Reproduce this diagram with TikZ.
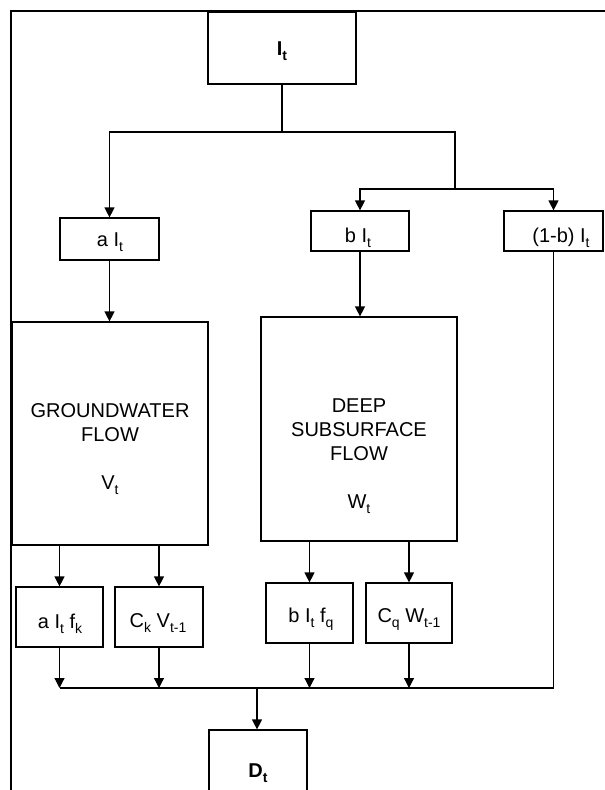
\documentclass[tikz,border=0pt]{standalone}
\usepackage{fontspec}
\setmainfont{Liberation Sans}
\usetikzlibrary{arrows.meta}
\newcommand{\sbs}[1]{\raisebox{-5pt}{\fontsize{14}{14}\selectfont #1}}
\begin{document}
\begin{tikzpicture}[x=1pt,y=-1pt,
  box/.style={draw, line width=1.2pt, inner sep=0pt},
  txt/.style={inner sep=0pt, font=\fontsize{20}{24}\selectfont, align=center},
  tx/.style={txt, anchor=base},
  line/.style={line width=1.2pt},
  arr/.style={line width=1.2pt, -{Triangle[width=10pt,length=10pt]}},
  frame/.style={line width=1.6pt}]
\useasboundingbox (0,0) rectangle (605,790);

% frame
\coordinate (fTL) at (11,11);
\coordinate (fTR) at (606,11);
\coordinate (fBL) at (11,792);
\draw[frame] (fTR) -- (fTL) -- (fBL);

% boxes
\node[box, minimum width=148pt, minimum height=72pt] (It) at (282,48) {};
\node[tx] (Itt) at (282,55) {\bfseries I\sbs{t}};
\node[box, minimum width=99pt, minimum height=42pt] (aIt) at (109.5,239) {};
\node[tx] (aItt) at (110,246) {a I\sbs{t}};
\node[box, minimum width=98pt, minimum height=40pt] (bIt) at (360,231) {};
\node[tx] (bItt) at (358,242) {b I\sbs{t}};
\node[box, minimum width=99pt, minimum height=40pt] (obIt) at (553.5,231) {};
\node[tx] (obItt) at (561,242) {(1-b) I\sbs{t}};

\node[box, minimum width=196pt, minimum height=223pt] (gw) at (110,433.5) {};
\node[txt] (gwt) at (110,449.5) {GROUNDWATER\\FLOW\\[24pt]V\sbs{t}};
\node[box, minimum width=196pt, minimum height=224pt] (dp) at (359,429) {};
\node[txt] (dpt) at (359,456.5) {DEEP\\SUBSURFACE\\FLOW\\[24pt]W\sbs{t}};

\node[box, minimum width=87pt, minimum height=60pt] (s1) at (59.5,617) {};
\node[tx] (s1t) at (60,628) {a I\sbs{t} f\sbs{k}};
\node[box, minimum width=88pt, minimum height=60pt] (s2) at (159,617) {};
\node[tx] (s2t) at (158,627) {C\sbs{k} V\sbs{t-1}};
\node[box, minimum width=87pt, minimum height=60pt] (s3) at (309.5,613) {};
\node[tx] (s3t) at (311,622) {b I\sbs{t} f\sbs{q}};
\node[box, minimum width=86pt, minimum height=60pt] (s4) at (409,613) {};
\node[tx] (s4t) at (409,622) {C\sbs{q} W\sbs{t-1}};

\node[box, minimum width=98pt, minimum height=80pt] (Dt) at (258,770) {};
\node[tx] (Dtt) at (258,777) {\bfseries D\sbs{t}};

% top distribution
\coordinate (j1) at (282,132);
\coordinate (j2) at (455,132);
\coordinate (j3) at (455,189);
\draw[line] (It.south) -- (j1);
\draw[arr] (j1) -| (aIt.north);
\draw[line] (j1) -- (j2) -- (j3);
\draw[arr] (j3) -| (bIt.north);
\draw[arr] (j3) -| (obIt.north);

\draw[arr] (aIt.south) -- (aIt.south |- gw.north);
\draw[arr] (bIt.south) -- (bIt.south |- dp.north);

\draw[arr] (gw.south -| s1.north) -- (s1.north);
\draw[arr] (gw.south -| s2.north) -- (s2.north);
\draw[arr] (dp.south -| s3.north) -- (s3.north);
\draw[arr] (dp.south -| s4.north) -- (s4.north);

% collector
\coordinate (busL) at (60,688);
\coordinate (busD) at (257,688);
\draw[line] (obIt.south) |- (busL);
\draw[arr] (s1.south) -- (s1.south |- busL);
\draw[arr] (s2.south) -- (s2.south |- busL);
\draw[arr] (s3.south) -- (s3.south |- busL);
\draw[arr] (s4.south) -- (s4.south |- busL);
\draw[arr] (busD) -- (busD |- Dt.north);
\end{tikzpicture}
\end{document}
